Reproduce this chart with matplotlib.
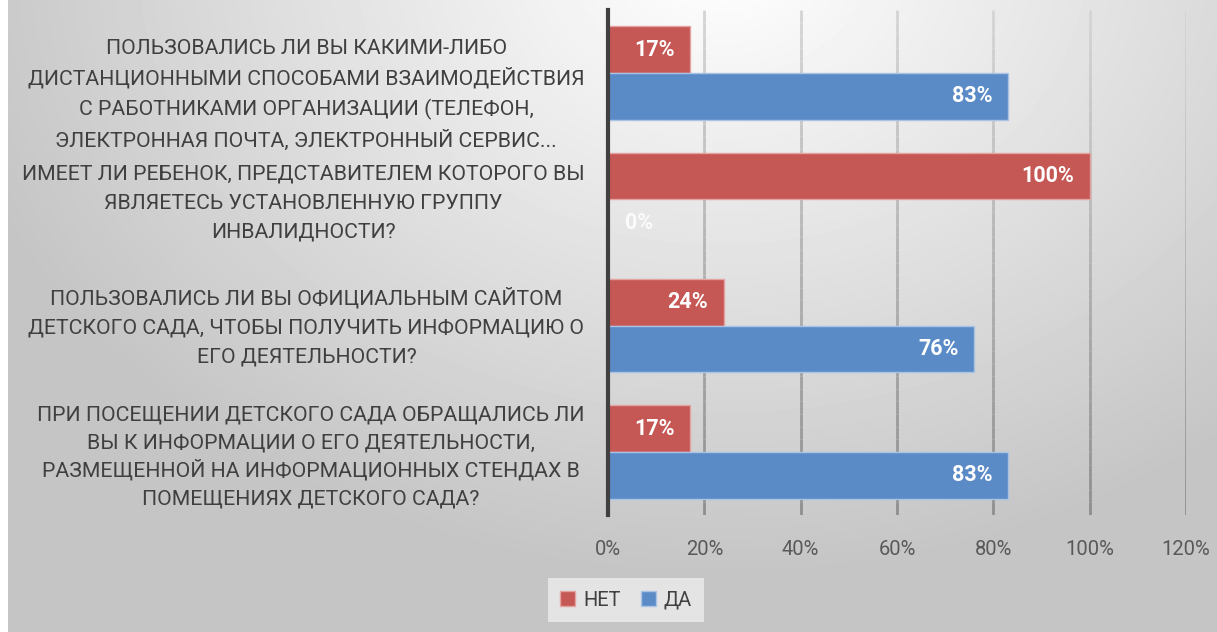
import numpy as np
import matplotlib.pyplot as plt
from matplotlib.collections import LineCollection

# данные
questions = [
    "ПОЛЬЗОВАЛИСЬ ЛИ ВЫ КАКИМИ-ЛИБО\nДИСТАНЦИОННЫМИ СПОСОБАМИ ВЗАИМОДЕЙСТВИЯ\nС РАБОТНИКАМИ ОРГАНИЗАЦИИ (ТЕЛЕФОН,\nЭЛЕКТРОННАЯ ПОЧТА, ЭЛЕКТРОННЫЙ СЕРВИС...",
    "ИМЕЕТ ЛИ РЕБЕНОК, ПРЕДСТАВИТЕЛЕМ КОТОРОГО ВЫ\nЯВЛЯЕТЕСЬ УСТАНОВЛЕННУЮ ГРУППУ\nИНВАЛИДНОСТИ?",
    "ПОЛЬЗОВАЛИСЬ ЛИ ВЫ ОФИЦИАЛЬНЫМ САЙТОМ\nДЕТСКОГО САДА, ЧТОБЫ ПОЛУЧИТЬ ИНФОРМАЦИЮ О\nЕГО ДЕЯТЕЛЬНОСТИ?",
    "ПРИ ПОСЕЩЕНИИ ДЕТСКОГО САДА ОБРАЩАЛИСЬ ЛИ\nВЫ К ИНФОРМАЦИИ О ЕГО ДЕЯТЕЛЬНОСТИ,\nРАЗМЕЩЕННОЙ НА ИНФОРМАЦИОННЫХ СТЕНДАХ В\nПОМЕЩЕНИЯХ ДЕТСКОГО САДА?",
]
net = [0.17, 1.00, 0.24, 0.17]
da = [0.83, 0.00, 0.76, 0.83]
xticks = [0, 0.2, 0.4, 0.6, 0.8, 1.0, 1.2]

red = "#C55754"
blue = "#5B8BC7"
txt = "#404040"

plt.rcParams['font.family'] = ['Roboto', 'DejaVu Sans']

fig = plt.figure(figsize=(12.17, 6.32), dpi=100)

# фон с градиентом
bg = fig.add_axes([0, 0, 1, 1], zorder=-10)
yy, xx = np.mgrid[0:632, 0:1217]
d = np.sqrt(((xx - 720) / 900.0) ** 2 + ((yy + 40) / 700.0) ** 2)
g = np.clip(1.0 - 0.26 * d, 0.77, 1.0)
g[:, :8] = 1.0  # белая полоска слева
bg.imshow(g, cmap='gray', vmin=0, vmax=1, aspect='auto', extent=[0, 1, 0, 1])
bg.axis('off')

ax = fig.add_axes([608 / 1217, 1 - 515 / 632, (1186 - 608) / 1217, 505 / 632])
ax.patch.set_alpha(0)

n = len(questions)
pos = np.arange(n)[::-1]
h = 0.37
b1 = ax.barh(pos + h / 2, net, height=h, color=red, edgecolor="#E3A3A1", linewidth=1, label="НЕТ", zorder=3)
b2 = ax.barh(pos - h / 2, da, height=h, color=blue, edgecolor="#A9C3E6", linewidth=1, label="ДА", zorder=3)

for bars, vals in [(b1, net), (b2, da)]:
    for r, v in zip(bars, vals):
        yc = r.get_y() + r.get_height() / 2
        if v == 0:
            ax.annotate("0%", (0, yc), xytext=(12, 0), textcoords='offset points',
                        ha='left', va='center', color='white', alpha=0.85,
                        fontsize=15.5, fontweight='bold', zorder=4)
        else:
            ax.annotate(f"{v * 100:.0f}%", (v, yc), xytext=(-11, 0), textcoords='offset points',
                        ha='right', va='center', color='white',
                        fontsize=15.5, fontweight='bold', zorder=4)

ax.set_xlim(0, 1.2)
ax.set_ylim(-0.5, n - 0.5)
ax.set_xticks(xticks)
ax.set_xticklabels([f"{t * 100:.0f}%" for t in xticks], fontsize=14.5, color="#595959")
ax.set_yticks(pos)
ax.set_yticklabels([])
ax.tick_params(axis='both', length=0)
ax.tick_params(axis='x', pad=18)
for s in ['top', 'right', 'bottom']:
    ax.spines[s].set_visible(False)
ax.spines['left'].set_color("#404040")
ax.spines['left'].set_linewidth(3)
ax.spines['left'].set_zorder(5)

# сетка: светлее вверху, темнее внизу
ys = np.linspace(-0.5, n - 0.5, 41)
segs, cols = [], []
for xt in xticks[1:]:
    for y0, y1 in zip(ys[:-1], ys[1:]):
        segs.append([(xt, y0), (xt, y1)])
        f = (y0 + 0.5) / n
        c = 0.56 + 0.28 * f
        cols.append((c, c, c))
ax.add_collection(LineCollection(segs, colors=cols, linewidths=2, zorder=1))

# подписи вопросов: каждая строка отдельно, по базовой линии, чтобы шаг был ровным
renderer = fig.canvas.get_renderer()
step = [31 * 0.72, 29 * 0.72, 29 * 0.72, 28 * 0.72]  # шаг строк, pt
shift = [-14, -1.5, 0, -2]  # сдвиг блока вниз, pt (первый обрезан сверху)
right = -17                 # отступ от оси, pt
cap = 5.4                   # половина высоты заглавных, pt
for q, p, sh, st in zip(questions, pos, shift, step):
    lines = q.split("\n")
    m = len(lines)
    objs = []
    for k, line in enumerate(lines):
        dy = -(k - (m - 1) / 2) * st + sh - cap
        t = ax.annotate(line, (0, p), xycoords=('axes fraction', 'data'),
                        xytext=(right, dy), textcoords='offset points',
                        ha='center', va='baseline', fontsize=15.3, color=txt)
        objs.append(t)
    wmax = max(t.get_window_extent(renderer).width for t in objs) * 72 / fig.dpi
    for t in objs:
        x0, y0 = t.xyann
        t.xyann = (right - wmax / 2, y0)

fig.legend(handles=[b1, b2], loc='center', bbox_to_anchor=(626 / 1217, 1 - 600 / 632), ncol=2,
           frameon=True, facecolor="#E4E4E4", edgecolor="none", framealpha=1,
           fontsize=14.5, handlelength=0.75, handleheight=0.75, columnspacing=1.0, handletextpad=0.4,
           labelcolor=txt, fancybox=False, borderpad=0.6)

fig.savefig("out.png", dpi=100)
